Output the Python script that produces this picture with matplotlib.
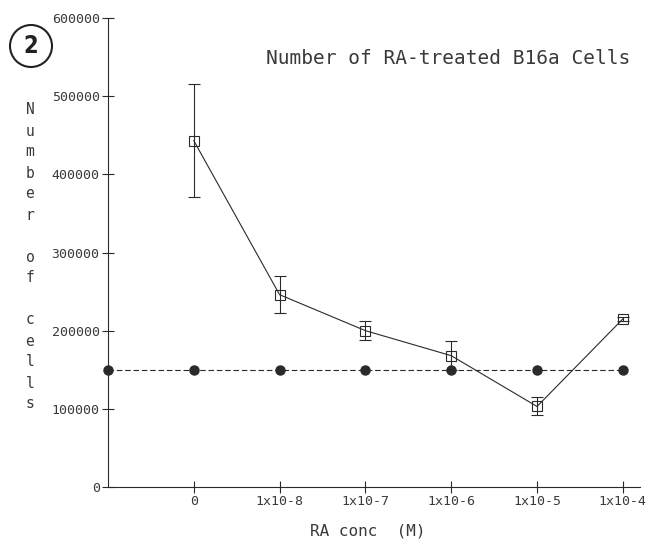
import matplotlib
matplotlib.use("Agg")
import matplotlib.pyplot as plt
from matplotlib.patches import Ellipse

# data
conc_labels = ["0", "1x10-8", "1x10-7", "1x10-6", "1x10-5", "1x10-4"]
ra_cells = [443000, 246000, 200000, 168000, 103000, 215000]
ra_err = [72000, 24000, 12000, 18500, 11500, 3000]
ctrl_pos = [-1, 0, 1, 2, 3, 4, 5]
ctrl_cells = [150000, 150000, 150000, 150000, 150000, 150000, 150000]
yticks = [0, 100000, 200000, 300000, 400000, 500000, 600000]

ink = "#2a2a2a"
txt = "#3a3a3a"
mono = ["DejaVu Sans Mono"]

fig = plt.figure(figsize=(6.5, 5.41), dpi=100)
ax = fig.add_axes([108 / 650, 1 - 487 / 541, (640 - 108) / 650, (487 - 18) / 541])

x = list(range(len(conc_labels)))

# control line (dashed, filled circles)
ax.plot(ctrl_pos, ctrl_cells, ls=(0, (5, 2.5)), lw=0.8, color=ink,
        marker="o", ms=6.5, mfc=ink, mec=ink, clip_on=False, zorder=3)

# RA treated (solid, open squares + error bars)
ax.errorbar(x, ra_cells, yerr=ra_err, color=ink, lw=0.8, elinewidth=0.8,
            capsize=4, capthick=0.8, marker="s", ms=7.5, mfc="none",
            mec=ink, mew=0.8, zorder=4)

ax.set_xlim(-1, 5.2)
ax.set_ylim(0, 600000)
ax.set_xticks(x)
ax.set_xticklabels(conc_labels)
ax.set_yticks(yticks)
ax.set_yticklabels([str(v) for v in yticks])

for s in ["top", "right"]:
    ax.spines[s].set_visible(False)
for s in ["left", "bottom"]:
    ax.spines[s].set_color(ink)
    ax.spines[s].set_linewidth(0.8)

ax.tick_params(direction="inout", length=8, width=0.8, color=ink,
               labelcolor=txt, labelsize=9.5, pad=2)
for lab in ax.get_xticklabels() + ax.get_yticklabels():
    lab.set_family(mono)
ax.tick_params(axis="x", pad=2)

# title inside the plot area
fig.text(448 / 650, 1 - 59 / 541, "Number of RA-treated B16a Cells",
         ha="center", va="center", fontsize=14, family=mono, color=txt)

# stacked y label
ylab = "\n".join(list("Number")) + "\n\n" + "\n".join(list("of")) + "\n\n" + "\n".join(list("cells"))
fig.text(30 / 650, 1 - 257 / 541, ylab, ha="center", va="center",
         fontsize=10.5, family=mono, color=txt, linespacing=1.5)

fig.text(368 / 650, 1 - 531 / 541, "RA conc  (M)", ha="center", va="center",
         fontsize=11.5, family=mono, color=txt)

# circled panel number
fig.add_artist(Ellipse((31 / 650, 1 - 46 / 541), 42 / 650, 42 / 541,
                       fill=False, lw=1.5, ec="#222222"))
fig.text(31 / 650, 1 - 46 / 541, "2", ha="center", va="center",
         fontsize=17, fontweight="bold", fontstretch="condensed",
         color="#222222")

fig.savefig("out.png", dpi=100, facecolor="white")
